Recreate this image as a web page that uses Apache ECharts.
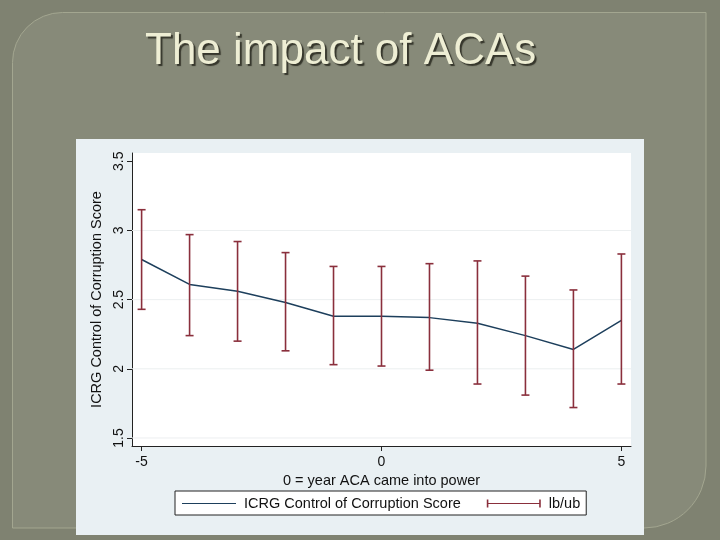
<!DOCTYPE html>
<html>
<head>
<meta charset="utf-8">
<script src="https://cdn.jsdelivr.net/npm/echarts@6/dist/echarts.min.js"></script>
<style>
html,body{margin:0;padding:0;background:#7f8271;}
#c{width:720px;height:540px;}
</style>
</head>
<body>
<div id="c"></div>
<script>
// ---- data ----
const years = [-5, -4, -3, -2, -1, 0, 1, 2, 3, 4, 5];
const score = [2.79, 2.61, 2.56, 2.48, 2.38, 2.38, 2.37, 2.33, 2.24, 2.14, 2.35];
const lower = [2.43, 2.24, 2.20, 2.13, 2.03, 2.02, 1.99, 1.89, 1.81, 1.72, 1.89];
const upper = [3.15, 2.97, 2.92, 2.84, 2.74, 2.74, 2.76, 2.78, 2.67, 2.57, 2.83];
const xTicks = [-5, 0, 5];
const yTicks = [1.5, 2, 2.5, 3, 3.5];
const yGrid = [1.5, 2, 2.5, 3];
const titleText = 'The impact of ACAs';
const seriesName = 'ICRG Control of Corruption Score';
const ciName = 'lb/ub';
const xTitle = '0 = year ACA came into power';
const yTitle = 'ICRG Control of Corruption Score';

const lineColor = '#1d3f5c';
const capColor = '#8a2f3c';
const FONT = 'Liberation Sans, Arial, sans-serif';

const chart = echarts.init(document.getElementById('c'), null, {renderer: 'canvas'});

const linePts = years.map((x, i) => [x, score[i]]);
const ciPts = years.map((x, i) => [x, lower[i], upper[i]]);
const gridPts = yGrid.map(v => [v]);

const option = {
  animation: false,
  backgroundColor: '#7f8271',
  graphic: [
    {type: 'rect', z: -10, shape: {x: 12.5, y: 12.5, width: 693.5, height: 515.5, r: [50, 0, 62, 0]},
     style: {fill: '#878a79', stroke: '#a3a690', lineWidth: 1}},
    {type: 'text', z: -5, x: 145, y: 52,
     style: {text: titleText, font: '44px ' + FONT, fill: '#eeeed4', verticalAlign: 'middle',
             textShadowColor: 'rgba(40,40,30,0.85)', textShadowOffsetX: 2, textShadowOffsetY: 2, textShadowBlur: 1}},
    {type: 'rect', z: -5, shape: {x: 76, y: 139, width: 568, height: 396},
     style: {fill: '#e9f0f3'}}
  ],
  grid: {left: 132, top: 153, width: 499, height: 293, show: true, backgroundColor: '#ffffff', borderWidth: 0, containLabel: false},
  xAxis: {
    type: 'value', min: -5.2, max: 5.2,
    name: xTitle, nameLocation: 'middle', nameGap: 21,
    nameTextStyle: {fontFamily: FONT, fontSize: 14.5, color: '#111'},
    axisLine: {show: true, onZero: false, lineStyle: {color: '#222', width: 1}},
    axisTick: {show: true, customValues: xTicks, length: 5, lineStyle: {color: '#222'}},
    axisLabel: {customValues: xTicks, margin: 9, fontFamily: FONT, fontSize: 14, color: '#111',
                formatter: v => String(v)},
    splitLine: {show: false}
  },
  yAxis: {
    type: 'value', min: 1.442, max: 3.56,
    name: yTitle, nameLocation: 'middle', nameGap: 24, nameRotate: 90,
    nameTextStyle: {fontFamily: FONT, fontSize: 14.5, color: '#111'},
    axisLine: {show: true, onZero: false, lineStyle: {color: '#222', width: 1}},
    axisTick: {show: true, customValues: yTicks, length: 5, lineStyle: {color: '#222'}},
    axisLabel: {customValues: yTicks, rotate: 90, margin: 6, fontFamily: FONT, fontSize: 14, color: '#111',
                formatter: v => String(v)},
    splitLine: {show: false}
  },
  legend: {
    left: 175, top: 491,
    padding: [5, 6, 4, 7],
    itemGap: 26, itemWidth: 54, itemHeight: 8,
    backgroundColor: '#ffffff', borderColor: '#222', borderWidth: 1, borderRadius: 0,
    textStyle: {fontFamily: FONT, fontSize: 14.5, color: '#111', padding: [0, 0, 0, 3]},
    data: [
      {name: seriesName, icon: 'path://M0,0L0,0M0,3.4h54v1.2h-54zM54,8L54,8', itemStyle: {color: lineColor}},
      {name: ciName, icon: 'path://M0,0h1.6v8h-1.6zM0,3.4h54v1.2h-54zM52.4,0h1.6v8h-1.6z', itemStyle: {color: capColor}}
    ]
  },
  series: [
    {
      name: 'grid', type: 'custom', data: gridPts, z: 1, silent: true,
      encode: {y: 0},
      renderItem: function (params, api) {
        const cs = params.coordSys;
        const y = api.coord([0, api.value(0)])[1];
        return {type: 'line', shape: {x1: cs.x, y1: y, x2: cs.x + cs.width, y2: y},
                style: {stroke: '#eceff0', lineWidth: 1}};
      }
    },
    {
      name: seriesName, type: 'line', data: linePts, symbol: 'none', showSymbol: false,
      lineStyle: {color: lineColor, width: 1.5}, itemStyle: {color: lineColor}, z: 3
    },
    {
      name: ciName, type: 'custom', data: ciPts, z: 4,
      itemStyle: {color: capColor},
      encode: {x: 0, y: [1, 2]},
      renderItem: function (params, api) {
        const x = api.value(0);
        const lo = api.coord([x, api.value(1)]);
        const hi = api.coord([x, api.value(2)]);
        const hw = 4;
        const st = {stroke: capColor, lineWidth: 1.6};
        return {
          type: 'group',
          children: [
            {type: 'line', shape: {x1: lo[0], y1: lo[1], x2: hi[0], y2: hi[1]}, style: st},
            {type: 'line', shape: {x1: lo[0] - hw, y1: lo[1], x2: lo[0] + hw, y2: lo[1]}, style: st},
            {type: 'line', shape: {x1: hi[0] - hw, y1: hi[1], x2: hi[0] + hw, y2: hi[1]}, style: st}
          ]
        };
      }
    }
  ]
};
chart.setOption(option);
</script>
</body>
</html>
